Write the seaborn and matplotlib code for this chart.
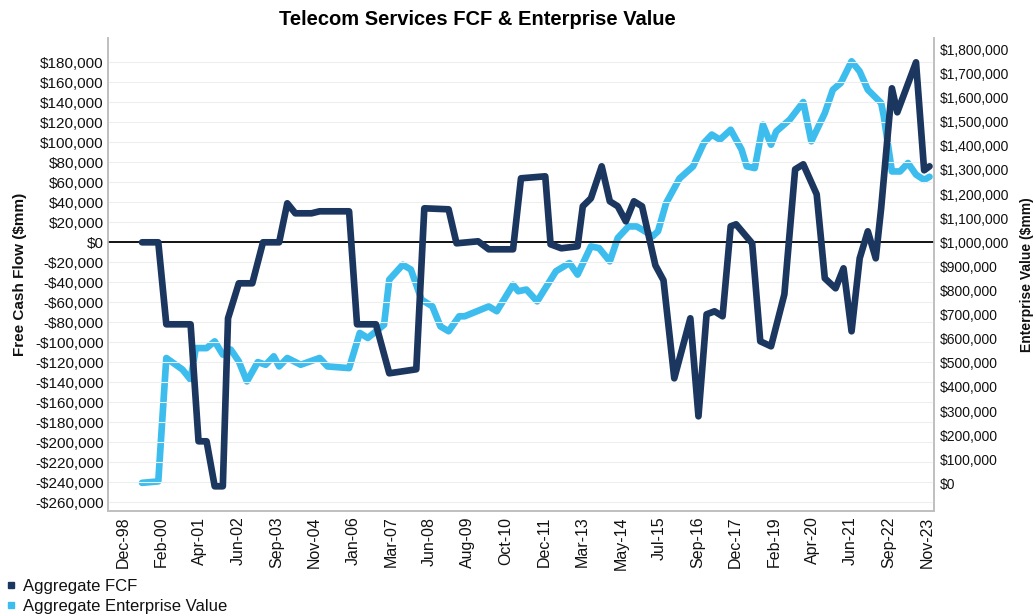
import numpy as np
import pandas as pd
import matplotlib
matplotlib.use("Agg")
import matplotlib.pyplot as plt
import matplotlib.dates as mdates
from matplotlib.lines import Line2D
from matplotlib.ticker import FuncFormatter
import seaborn as sns

# ---- data ($mm) ----
fcf_dates = ["1999-07", "2000-01", "2000-04", "2001-01", "2001-04", "2001-07", "2001-10",
             "2002-01", "2002-03", "2002-07", "2002-12", "2003-04", "2003-10", "2004-01",
             "2004-04", "2004-10", "2005-01", "2005-12", "2006-03", "2006-10", "2007-03",
             "2008-01", "2008-04", "2009-01", "2009-04", "2009-12", "2010-04", "2011-01",
             "2011-04", "2012-01", "2012-03", "2012-07", "2013-01", "2013-03", "2013-06",
             "2013-10", "2014-01", "2014-04", "2014-07", "2014-10", "2015-01", "2015-06",
             "2015-09", "2016-01", "2016-07", "2016-10", "2017-01", "2017-04", "2017-07",
             "2017-10", "2017-12", "2018-06", "2018-09", "2019-01", "2019-06", "2019-10",
             "2020-01", "2020-06", "2020-09", "2021-01", "2021-04", "2021-07", "2021-10",
             "2022-01", "2022-04", "2022-06", "2022-10", "2022-12", "2023-07", "2023-10",
             "2023-12"]
fcf_values = [0, 0, -82000, -82000, -199000, -199000, -244000,
              -244000, -76000, -41000, -41000, 0, 0, 39000,
              29000, 29000, 31000, 31000, -82000, -82000, -131000,
              -127000, 34000, 33000, -1000, 1000, -7000, -7000,
              64000, 66000, -2000, -6000, -4000, 36000, 44000,
              76000, 41000, 36000, 21000, 41000, 36000, -23000,
              -38000, -136000, -76000, -174000, -72000, -69000, -74000,
              16000, 18000, -1000, -99000, -104000, -52000, 73000,
              78000, 48000, -36000, -46000, -26000, -89000, -16000,
              11000, -16000, 34000, 154000, 130000, 180000, 72000,
              76000]

ev_dates = ["1999-07", "2000-01", "2000-04", "2000-10", "2001-01", "2001-03", "2001-07",
            "2001-10", "2002-01", "2002-04", "2002-07", "2002-10", "2003-02", "2003-05",
            "2003-08", "2003-10", "2004-01", "2004-06", "2005-01", "2005-04", "2005-12",
            "2006-04", "2006-07", "2007-01", "2007-03", "2007-08", "2007-11", "2008-03",
            "2008-07", "2008-10", "2009-01", "2009-05", "2009-07", "2010-04", "2010-07",
            "2011-01", "2011-03", "2011-06", "2011-10", "2012-05", "2012-10", "2013-01",
            "2013-06", "2013-09", "2014-01", "2014-04", "2014-08", "2014-11", "2015-02",
            "2015-05", "2015-07", "2015-10", "2016-03", "2016-08", "2016-12", "2017-03",
            "2017-06", "2017-10", "2018-02", "2018-04", "2018-07", "2018-10", "2019-01",
            "2019-03", "2019-08", "2020-01", "2020-04", "2020-09", "2020-12", "2021-03",
            "2021-07", "2021-10", "2022-01", "2022-06", "2022-07", "2022-10", "2023-01",
            "2023-04", "2023-07", "2023-10", "2023-12"]
ev_values = [2000, 8000, 520000, 472000, 430000, 561000, 561000,
             589000, 534000, 555000, 506000, 423000, 503000, 492000,
             527000, 485000, 520000, 492000, 520000, 485000, 478000,
             624000, 603000, 658000, 845000, 907000, 887000, 762000,
             734000, 651000, 631000, 693000, 693000, 734000, 714000,
             824000, 797000, 804000, 755000, 880000, 914000, 866000,
             983000, 976000, 921000, 1018000, 1066000, 1066000, 1046000,
             1025000, 1046000, 1163000, 1265000, 1315000, 1412000, 1447000,
             1426000, 1467000, 1385000, 1315000, 1308000, 1488000, 1405000,
             1460000, 1509000, 1582000, 1419000, 1536000, 1633000, 1661000,
             1751000, 1709000, 1633000, 1578000, 1523000, 1294000, 1294000,
             1329000, 1281000, 1259000, 1272000]

tick_labels = ["Dec-98", "Feb-00", "Apr-01", "Jun-02", "Sep-03", "Nov-04", "Jan-06",
               "Mar-07", "Jun-08", "Aug-09", "Oct-10", "Dec-11", "Mar-13", "May-14",
               "Jul-15", "Sep-16", "Dec-17", "Feb-19", "Apr-20", "Jun-21", "Sep-22",
               "Nov-23"]

fcf = pd.DataFrame({"date": pd.to_datetime(fcf_dates), "value": fcf_values})
ev = pd.DataFrame({"date": pd.to_datetime(ev_dates), "value": ev_values})

NAVY = "#1b365f"
LIGHT = "#3dbdee"
TXT = "#111111"

sns.set_theme(style="white")
plt.rcParams["font.family"] = ["Liberation Sans", "DejaVu Sans"]
plt.rcParams["text.color"] = TXT
plt.rcParams["axes.labelcolor"] = TXT

fig = plt.figure(figsize=(10.34, 6.15), dpi=100)
ax = fig.add_axes([0.1044, 0.1691, 0.799, 0.7691])
ax2 = ax.twinx()

# left axis (FCF)
fcf_lo, fcf_hi = -268700, 204300
ax.set_ylim(fcf_lo, fcf_hi)
ax.set_yticks(np.arange(-260000, 180001, 20000))
ax.yaxis.set_major_formatter(FuncFormatter(lambda v, p: f"${v:,.0f}" if v >= 0 else f"-${-v:,.0f}"))
ax.grid(axis="y", color="#eeeeee", lw=0.8)
ax.axhline(0, color="black", lw=1.3, zorder=1)

# right axis (EV) aligned so $1,000,000 sits on the FCF zero line
k = 4.149
ax2.set_ylim(1_000_000 + fcf_lo * k, 1_000_000 + fcf_hi * k)
ax2.set_yticks(np.arange(0, 1800001, 100000))
ax2.yaxis.set_major_formatter(FuncFormatter(lambda v, p: f"${v:,.0f}"))
ax2.grid(False)

sns.lineplot(data=ev, x="date", y="value", ax=ax2, color=LIGHT, lw=4.8, zorder=2)
sns.lineplot(data=fcf, x="date", y="value", ax=ax, color=NAVY, lw=4.8, zorder=3)
ax.set_zorder(ax2.get_zorder() + 1)
ax.patch.set_visible(False)

# x axis: evenly spaced date labels
t0 = mdates.date2num(pd.Timestamp("1998-12-01"))
t1 = mdates.date2num(pd.Timestamp("2023-11-01"))
ax.set_xlim(mdates.date2num(pd.Timestamp("1998-06-10")), mdates.date2num(pd.Timestamp("2024-01-22")))
ax.set_xticks(np.linspace(t0, t1, len(tick_labels)))
ax.set_xticklabels(tick_labels, rotation=90, fontsize=11.5, color=TXT)

ax.tick_params(axis="y", labelsize=11, colors=TXT, length=0, pad=3)
ax.tick_params(axis="x", length=0, pad=4)
ax2.tick_params(axis="y", labelsize=10, colors=TXT, length=0, pad=4)

ax.set_xlabel("")
ax.set_ylabel("Free Cash Flow ($mm)", fontsize=11, fontweight="bold", labelpad=6)
ax2.set_ylabel("Enterprise Value ($mm)", fontsize=10, fontweight="bold")
ax2.yaxis.set_label_coords(1.104, 0.5)

for a in (ax, ax2):
    a.spines["top"].set_visible(False)
    for s in ("left", "right", "bottom"):
        a.spines[s].set_color("#bfbfbf")
        a.spines[s].set_linewidth(1.2)

fig.text(0.462, 0.968, "Telecom Services FCF & Enterprise Value", ha="center", va="center",
         fontsize=14.5, fontweight="bold", color="black")

handles = [Line2D([], [], marker="s", ls="none", color=NAVY, markersize=5),
           Line2D([], [], marker="s", ls="none", color=LIGHT, markersize=5)]
fig.legend(handles, ["Aggregate FCF", "Aggregate Enterprise Value"], loc="lower left",
           bbox_to_anchor=(-0.004, -0.014), frameon=False, fontsize=12,
           handlelength=0.6, handletextpad=0.4, labelspacing=0.3, borderaxespad=0.2)

fig.savefig("out.png", dpi=100)
